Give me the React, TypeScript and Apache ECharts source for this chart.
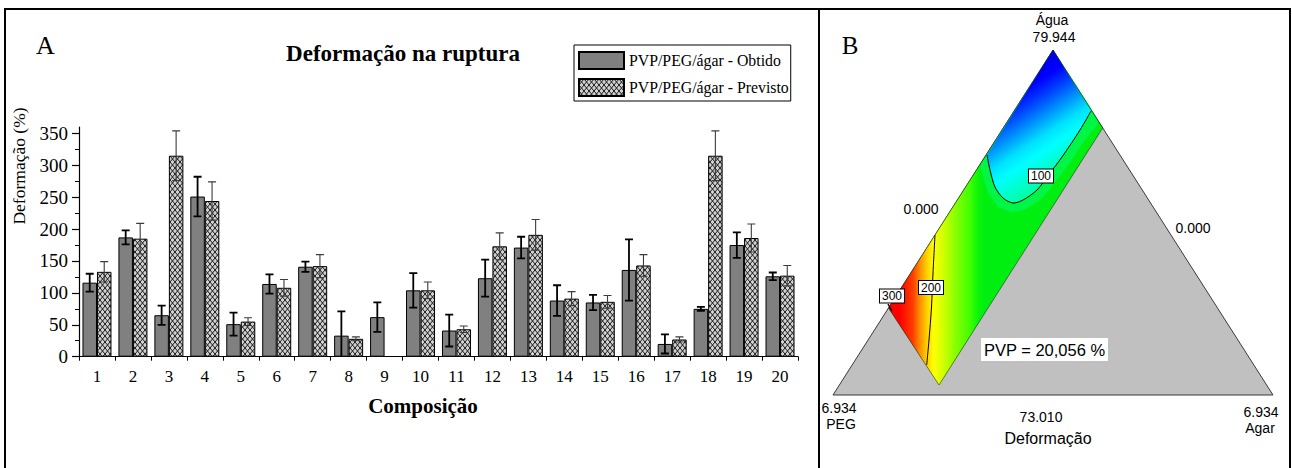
import React, { useEffect, useRef } from 'react';
import * as echarts from 'echarts';

// ---------- Panel A data ----------
const categories = ['1', '2', '3', '4', '5', '6', '7', '8', '9', '10', '11', '12', '13', '14', '15', '16', '17', '18', '19', '20'];
const obtido = [116, 187, 65, 251, 51, 114, 141, 33, 62, 104, 41, 123, 171, 88, 85, 136, 20, 75, 175, 126];
const obtidoErr = [14, 11, 15, 31, 18, 15, 8, 38, 23, 27, 25, 29, 17, 24, 12, 48, 15, 3, 20, 6];
const previsto: (number | null)[] = [133, 185, 315, 244, 55, 108, 142, 28, null, 104, 43, 173, 191, 91, 86, 143, 27, 315, 186, 127];
const previstoErr: (number | null)[] = [16, 24, 39, 30, 6, 13, 18, 3, null, 13, 5, 21, 24, 11, 10, 17, 4, 39, 22, 16];
const yMajorTicks = [0, 50, 100, 150, 200, 250, 300, 350];
const yMinorTicks = [25, 75, 125, 175, 225, 275, 325];
const seriesNames = ['PVP/PEG/ágar - Obtido', 'PVP/PEG/ágar - Previsto'];
const chartTitle = 'Deformação na ruptura';
const yAxisTitle = 'Deformação (%)';
const xAxisTitle = 'Composição';

// ---------- Panel B (ternary) texts ----------
const ternaryLabels = [
  { text: 'Água', x: 1052, y: 20 },
  { text: '79.944', x: 1054, y: 37 },
  { text: '0.000', x: 921, y: 209 },
  { text: '0.000', x: 1193, y: 228 },
  { text: '6.934', x: 839, y: 408 },
  { text: 'PEG', x: 841, y: 424 },
  { text: '73.010', x: 1041, y: 417 },
  { text: '6.934', x: 1261, y: 412 },
  { text: 'Agar', x: 1260, y: 428 },
];
const ternaryTitle = 'Deformação';
const pvpText = 'PVP = 20,056 %';
const contourLabels = [
  { text: '100', x: 1041, y: 176 },
  { text: '200', x: 931, y: 287.5 },
  { text: '300', x: 892, y: 296 },
];

// geometry of the ternary drawing
const triangle = [[1053, 50], [833, 395], [1273, 395]];
const band = [[1053, 50], [1102.7, 128], [939, 385], [888.5, 308]];
const contour100 = [[1091, 111], [1080, 130], [1062, 157], [1050, 173], [1037, 190], [1023, 200], [1013, 203], [1003, 198], [995, 187], [990, 170], [987, 155]];
const halo100 = [[1098, 121], [1087, 137], [1069, 164], [1056, 181], [1042, 198], [1026, 209], [1012, 212], [999, 207], [989, 194], [983, 176], [981, 164]];
const contour200 = [[935, 235], [933, 273], [931.5, 307], [929, 340], [926.7, 365]];
const contour300 = [[888, 304], [892, 311]];

const SERIF = '"Liberation Serif", "Times New Roman", serif';
const SANS = '"Liberation Sans", Arial, sans-serif';

function errData(vals: (number | null)[], errs: (number | null)[]) {
  const out: number[][] = [];
  vals.forEach((v, i) => {
    if (v != null && errs[i] != null) out.push([i, v - (errs[i] as number), v + (errs[i] as number)]);
  });
  return out;
}

function errRender(offset: number, color: string, lw: number) {
  return (params: any, api: any) => {
    const i = api.value(0);
    const lo = api.coord([i, api.value(1)]);
    const hi = api.coord([i, api.value(2)]);
    const x = lo[0] + offset;
    const st = { stroke: color, lineWidth: lw };
    return {
      type: 'group',
      children: [
        { type: 'line', shape: { x1: x, y1: lo[1], x2: x, y2: hi[1] }, style: st },
        { type: 'line', shape: { x1: x - 4, y1: hi[1], x2: x + 4, y2: hi[1] }, style: st },
        { type: 'line', shape: { x1: x - 4, y1: lo[1], x2: x + 4, y2: lo[1] }, style: st },
      ],
    };
  };
}

export default function App() {
  const ref = useRef<HTMLDivElement>(null);
  useEffect(() => {
    if (!ref.current) return;
    const chart = echarts.init(ref.current, null, { renderer: 'svg' });

    const c = document.createElement('canvas');
    c.width = 5;
    c.height = 6;
    const g = c.getContext('2d')!;
    g.fillStyle = '#d0d0d0';
    g.fillRect(0, 0, 5, 6);
    g.strokeStyle = '#1a1a1a';
    g.lineWidth = 1;
    g.beginPath();
    g.moveTo(0, 0);
    g.lineTo(5, 6);
    g.moveTo(5, 0);
    g.lineTo(0, 6);
    g.stroke();
    const hatch = { image: c, repeat: 'repeat' };

    const LG = echarts.graphic.LinearGradient;
    const redYellow = new LG(888, 0, 985, 0, [
      { offset: 0, color: '#ff0000' },
      { offset: 0.12, color: '#ff0000' },
      { offset: 0.26, color: '#ff4000' },
      { offset: 0.33, color: '#ff9000' },
      { offset: 0.4, color: '#ffd000' },
      { offset: 0.47, color: '#ffff00' },
      { offset: 0.57, color: '#d0ff00' },
      { offset: 0.71, color: '#80ff00' },
      { offset: 0.85, color: '#40ff00' },
      { offset: 1, color: 'rgba(0,255,0,0)' },
    ], true);
    const blueCyan = new LG(1053, 50, 1113.7, 141.7, [
      { offset: 0, color: '#0000e0' },
      { offset: 0.16, color: '#0000ff' },
      { offset: 0.3, color: '#0040ff' },
      { offset: 0.45, color: '#0090ff' },
      { offset: 0.6, color: '#00e0ff' },
      { offset: 0.72, color: '#00ffff' },
      { offset: 0.85, color: '#00ffd0' },
      { offset: 1, color: '#00ffa0' },
    ], true);

    const cyanPoly = [[1053, 50], ...contour100, [1053, 50]];
    const haloPoly = [[1053, 50], ...halo100, [1053, 50]];

    const textEl = (t: string, x: number, y: number, font: string, size: number, extra: any = {}) => ({
      type: 'text',
      x,
      y,
      z: 20,
      style: {
        text: t,
        fill: '#000',
        fontFamily: font,
        fontSize: size,
        align: 'center',
        textAlign: 'center',
        verticalAlign: 'middle',
        textVerticalAlign: 'middle',
        ...extra,
      },
    });

    const graphics: any[] = [
      // borders
      { type: 'rect', shape: { x: 5, y: 9, width: 1285, height: 470 }, style: { fill: 'none', stroke: '#000', lineWidth: 2 }, z: 30 },
      { type: 'line', shape: { x1: 819, y1: 9, x2: 819, y2: 468 }, style: { stroke: '#000', lineWidth: 2 }, z: 30 },
      // panel letters
      textEl('A', 45.5, 45, SERIF, 26),
      textEl('B', 850, 45, SERIF, 25),
      textEl(chartTitle, 403, 53, SERIF, 23, { fontWeight: 'bold' }),
      textEl(xAxisTitle, 423, 406, SERIF, 21, { fontWeight: 'bold' }),
      { ...textEl(yAxisTitle, 19, 166, SERIF, 17.5), rotation: Math.PI / 2 },
      // ternary
      { type: 'polygon', shape: { points: triangle }, style: { fill: '#c0c0c0', stroke: '#3a3a3a', lineWidth: 1 }, z: 10 },
      { type: 'polygon', shape: { points: band }, style: { fill: '#00ee10', stroke: 'none' }, z: 11 },
      { type: 'polygon', shape: { points: band }, style: { fill: redYellow, stroke: 'none' }, z: 12 },
      { type: 'polygon', shape: { points: haloPoly, smooth: 0.2 }, style: { fill: 'rgba(0,255,140,0.45)', stroke: 'none' }, z: 13 },
      { type: 'polygon', shape: { points: cyanPoly }, style: { fill: blueCyan, stroke: 'none' }, z: 13 },
      { type: 'polygon', shape: { points: band }, style: { fill: 'none', stroke: 'rgba(0,0,0,0.55)', lineWidth: 0.8 }, z: 14 },
      { type: 'polyline', shape: { points: contour100, smooth: 0.3 }, style: { stroke: '#000', lineWidth: 1, fill: 'none' }, z: 15 },
      { type: 'polyline', shape: { points: contour200, smooth: 0.3 }, style: { stroke: '#000', lineWidth: 1, fill: 'none' }, z: 15 },
      { type: 'polyline', shape: { points: contour300 }, style: { stroke: '#000', lineWidth: 1.5, fill: 'none' }, z: 15 },
      ...contourLabels.map((l) =>
        textEl(l.text, l.x, l.y, SANS, 12, {
          backgroundColor: '#fff',
          borderColor: '#000',
          borderWidth: 1,
          padding: [0, 2, 0, 2],
          lineHeight: 13,
        })
      ),
      { type: 'rect', shape: { x: 981, y: 338, width: 127, height: 23 }, style: { fill: '#fff', stroke: 'none' }, z: 16 },
      textEl(pvpText, 1044.5, 349.5, SANS, 16.5),
      ...ternaryLabels.map((l) => textEl(l.text, l.x, l.y, SANS, 14)),
      textEl(ternaryTitle, 1048, 438, SANS, 16),
    ];

    chart.setOption({
      animation: false,
      backgroundColor: '#fff',
      textStyle: { fontFamily: SERIF, color: '#000' },
      legend: {
        data: seriesNames,
        orient: 'vertical',
        left: 574,
        top: 45,
        padding: [6, 2, 4, 4],
        itemGap: 8,
        itemWidth: 45,
        itemHeight: 17,
        icon: 'rect',
        borderColor: '#000',
        borderWidth: 1,
        backgroundColor: '#fff',
        textStyle: { fontFamily: SERIF, fontSize: 15.8, color: '#000', lineHeight: 17 },
      },
      grid: { left: 79, right: 494, top: 127, bottom: 111.3, outerBoundsMode: 'none', containLabel: false },
      xAxis: [
        {
          type: 'category',
          data: categories,
          axisLine: { lineStyle: { color: '#000', width: 1.2 } },
          axisTick: { alignWithLabel: true, length: 7, interval: 0, lineStyle: { color: '#000', width: 1.2 } },
          axisLabel: { interval: 0, color: '#000', fontFamily: SERIF, fontSize: 17, margin: 11 },
          splitLine: { show: false },
        },
        {
          type: 'category',
          data: categories,
          position: 'bottom',
          axisLine: { show: false },
          axisTick: { show: true, alignWithLabel: false, length: 4, interval: 0, lineStyle: { color: '#000', width: 1 } },
          axisLabel: { show: false },
          splitLine: { show: false },
        },
      ],
      yAxis: [
        {
          type: 'value',
          min: 0,
          max: 360,
          axisLine: { show: true, lineStyle: { color: '#000', width: 1.2 } },
          axisTick: { show: true, length: 7, customValues: yMajorTicks, lineStyle: { color: '#000', width: 1.2 } },
          axisLabel: { customValues: yMajorTicks, color: '#000', fontFamily: SERIF, fontSize: 19, margin: 11 },
          splitLine: { show: false },
        },
        {
          type: 'value',
          min: 0,
          max: 360,
          position: 'left',
          axisLine: { show: false },
          axisTick: { show: true, length: 4, customValues: yMinorTicks, lineStyle: { color: '#000', width: 1 } },
          axisLabel: { show: false },
          splitLine: { show: false },
        },
      ],
      series: [
        {
          name: seriesNames[0],
          type: 'bar',
          data: obtido,
          barWidth: 14.5,
          barGap: '0%',
          itemStyle: { color: '#808080', borderColor: '#000', borderWidth: 1 },
        },
        {
          name: seriesNames[1],
          type: 'bar',
          data: previsto,
          barWidth: 14.5,
          barGap: '0%',
          itemStyle: { color: hatch, borderColor: '#000', borderWidth: 1 },
        },
        {
          name: 'errObtido',
          type: 'custom',
          data: errData(obtido, obtidoErr),
          encode: { x: 0, y: [1, 2] },
          renderItem: errRender(-7.25, '#000', 1.8),
          clip: true,
          z: 5,
        },
        {
          name: 'errPrevisto',
          type: 'custom',
          data: errData(previsto, previstoErr),
          encode: { x: 0, y: [1, 2] },
          renderItem: errRender(7.25, '#3c3c3c', 1.1),
          clip: true,
          z: 5,
        },
      ],
      graphic: { elements: graphics },
    });

    return () => chart.dispose();
  }, []);

  return <div ref={ref} style={{ position: 'fixed', left: 0, top: 0, width: 1292, height: 468 }} />;
}
